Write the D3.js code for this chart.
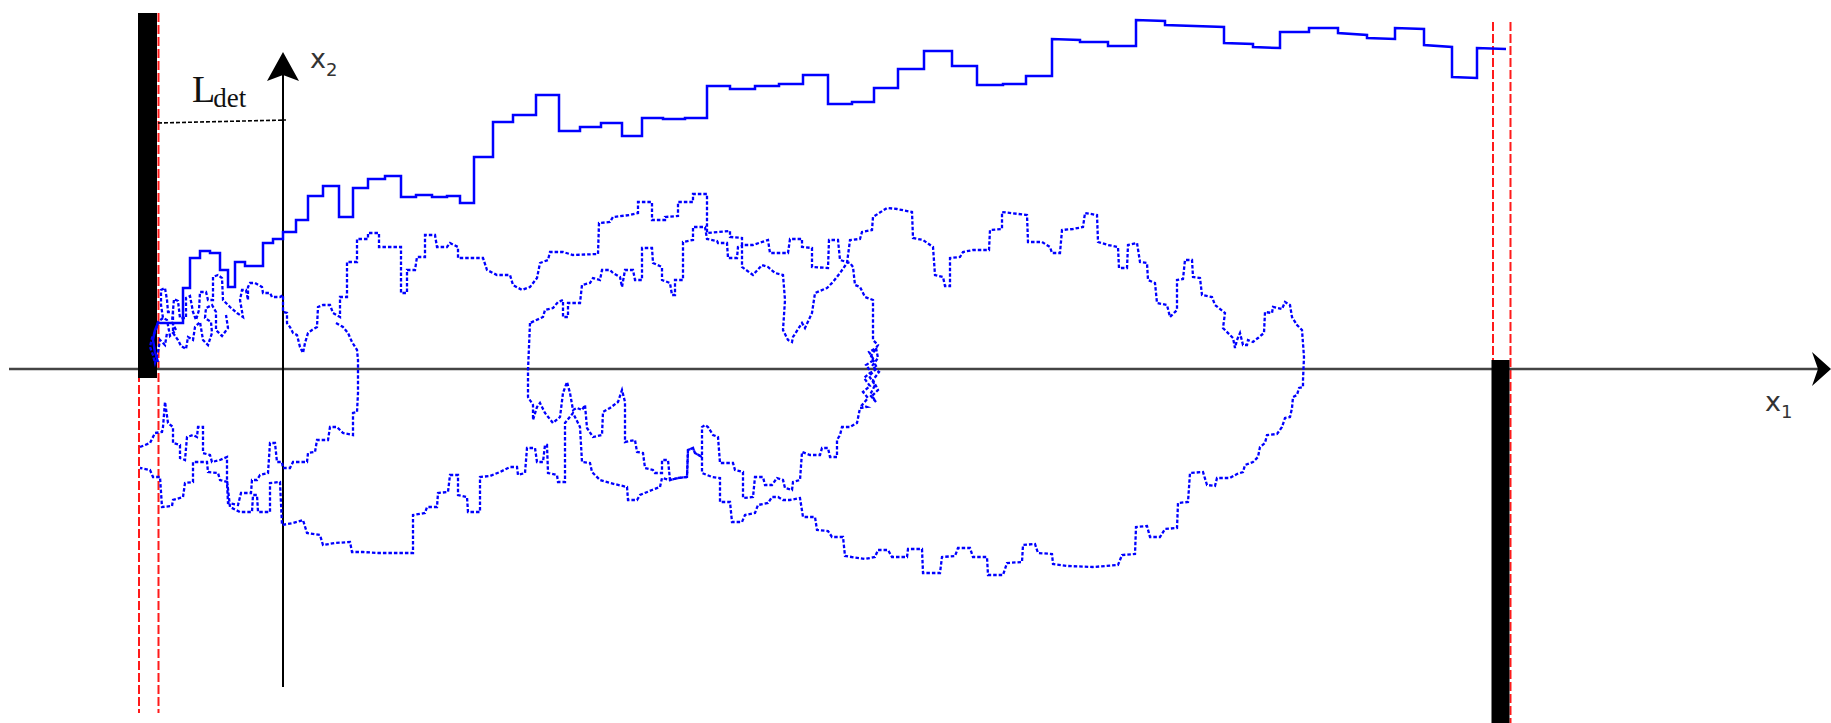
<!DOCTYPE html>
<html>
<head>
<meta charset="utf-8">
<script src="https://cdn.jsdelivr.net/npm/d3@7"></script>
<style>
  html, body { margin: 0; padding: 0; background: #fff; }
  svg { display: block; }
</style>
</head>
<body>
<svg id="chart" width="1831" height="723"></svg>
<script>
// All positions are in (x1, x2) units; the axes cross at (0, 0).
const axisX1 = [-274, 1548];
const axisX2 = [-318, 317];
const leftWall = [-145, -126, 356, -9];      // x1 from, x1 to, x2 top, x2 bottom
const rightWall = [1208.5, 1226.5, 9, -360];
const leftBounds = [-144, -124.5];
const rightBounds = [1210, 1227.5];
const boundsSpan = [[356, -344], [347, -360]];
const detLine = [[-125, 246], [3, 249]];

// Ballistic trajectory (solid)
const ballistic = [[-125,7],[-128,17],[-130,29],[-128,39],[-125,46],[-100,46],[-100,81],[-93,81],[-93,111],[-83,111],[-83,118],[-73,118],[-73,116],[-63,116],[-63,99],[-55,99],[-55,82],[-48,82],[-48,107],[-38,107],[-38,103],[-20,103],[-20,126],[-10,126],[-10,130],[0,130],[0,137],[13,137],[13,149],[25,149],[25,173],[40,173],[40,183],[56,183],[56,152],[70,152],[70,181],[85,181],[85,190],[102,190],[102,193],[118,193],[118,172],[133,172],[133,174],[149,174],[149,172],[164,172],[164,173],[177,173],[177,166],[191,166],[191,212],[210,212],[210,247],[230,247],[230,254],[253,254],[253,274],[276,274],[276,238],[297,238],[297,242],[318,242],[318,246],[339,246],[339,233],[359,233],[359,251],[380,251],[380,250],[402,250],[402,251],[424,251],[424,283],[447,283],[447,280],[472,280],[472,283],[496,283],[496,285],[520,285],[520,294],[545,294],[545,265],[569,265],[569,267],[591,267],[591,281],[615,281],[615,300],[641,300],[641,318],[669,318],[669,303],[694,303],[694,284],[720,284],[720,285],[743,285],[743,293],[769,293],[769,330],[797,329],[797,327],[825,327],[825,323],[853,323],[853,349],[882,348],[882,344],[941,342],[941,326],[970,325],[970,322],[997,321],[997,337],[1026,337],[1026,341],[1055,341],[1055,336],[1084,334],[1084,331],[1112,330],[1112,341],[1141,340],[1141,324],[1169,322],[1169,292],[1194,291],[1194,321],[1223,320]];

// Diffusive trajectory: middle and right loop
const loopRight = [[247,46],[245,-1],[245,-28],[250,-36],[250,-51],[254,-38],[257,-34],[262,-44],[270,-54],[277,-48],[280,-24],[284,-13],[287,-24],[290,-41],[294,-39],[299,-41],[302,-36],[304,-59],[310,-68],[319,-66],[320,-43],[327,-39],[335,-33],[339,-21],[342,-33],[342,-73],[352,-71],[354,-83],[360,-84],[362,-99],[370,-101],[372,-104],[379,-104],[379,-91],[385,-91],[387,-111],[395,-109],[404,-108],[405,-81],[410,-79],[412,-84],[419,-88],[419,-104],[429,-108],[437,-109],[437,-133],[447,-133],[449,-153],[459,-153],[462,-146],[472,-144],[475,-136],[485,-134],[489,-128],[495,-128],[500,-131],[507,-131],[517,-129],[520,-148],[532,-148],[534,-161],[545,-162],[549,-168],[560,-168],[562,-187],[582,-190],[592,-188],[595,-181],[605,-181],[609,-188],[624,-188],[625,-180],[639,-180],[640,-204],[657,-204],[659,-188],[672,-187],[675,-179],[687,-179],[690,-188],[704,-188],[705,-206],[720,-206],[724,-194],[739,-193],[740,-176],[752,-175],[755,-184],[769,-185],[770,-195],[785,-197],[810,-198],[835,-196],[839,-186],[852,-185],[853,-158],[864,-157],[867,-168],[877,-168],[882,-160],[894,-159],[895,-134],[905,-133],[907,-104],[920,-103],[924,-116],[932,-117],[934,-109],[947,-109],[954,-105],[960,-103],[962,-96],[970,-93],[975,-88],[977,-78],[982,-74],[984,-66],[994,-65],[999,-58],[1002,-49],[1007,-48],[1009,-39],[1010,-28],[1014,-26],[1016,-19],[1020,-18],[1020,-11],[1021,12],[1019,39],[1014,44],[1009,52],[1007,64],[1002,67],[999,60],[990,62],[989,56],[982,57],[981,36],[975,31],[970,27],[965,29],[964,24],[960,24],[957,36],[954,29],[952,21],[950,31],[940,41],[942,56],[932,64],[929,72],[919,74],[917,91],[910,92],[909,109],[902,109],[900,90],[894,89],[894,59],[887,52],[884,64],[874,66],[872,86],[865,89],[864,106],[857,107],[854,126],[845,124],[844,101],[836,101],[835,122],[825,124],[815,127],[814,154],[802,156],[800,142],[790,140],[779,139],[777,116],[769,116],[767,122],[759,127],[745,127],[744,154],[719,157],[719,140],[707,139],[706,119],[690,119],[680,117],[677,112],[667,111],[667,83],[662,83],[660,92],[652,94],[650,122],[640,129],[630,131],[629,157],[614,160],[604,161],[590,152],[589,139],[579,137],[577,130],[567,129],[564,106],[557,96],[550,87],[544,81],[532,76],[529,56],[522,41],[519,46],[510,32],[509,27],[505,29],[500,39],[502,69],[500,94],[492,96],[485,102],[479,104],[470,94],[459,102],[459,123],[455,122],[454,111],[445,111],[444,126],[435,126],[434,128],[424,130],[422,142],[410,142],[410,129],[400,127],[400,89],[392,89],[392,74],[389,74],[387,86],[379,89],[379,102],[370,106],[369,121],[359,121],[359,89],[352,89],[350,99],[342,99],[339,82],[337,92],[330,96],[327,99],[319,99],[317,89],[310,91],[307,86],[299,84],[297,66],[285,66],[285,52],[280,52],[280,69],[275,67],[270,61],[262,59],[260,52],[247,46]];

// Diffusive trajectory: lower band, crossing cluster, upper band, back to the wall
const longWalk = [[-143,-78],[-133,-74],[-128,-64],[-121,-63],[-120,-58],[-118,-33],[-115,-54],[-110,-58],[-110,-74],[-103,-76],[-103,-89],[-98,-91],[-96,-68],[-90,-66],[-86,-68],[-85,-58],[-80,-58],[-80,-84],[-73,-86],[-71,-93],[-63,-91],[-56,-88],[-56,-111],[-53,-138],[-43,-143],[-31,-143],[-30,-126],[-26,-126],[-25,-143],[-13,-143],[-13,-114],[-3,-113],[-1,-156],[10,-154],[20,-151],[24,-164],[37,-166],[40,-176],[52,-174],[67,-173],[69,-183],[80,-183],[95,-184],[130,-184],[130,-146],[142,-144],[144,-138],[154,-138],[155,-124],[165,-123],[167,-106],[175,-106],[175,-126],[184,-128],[185,-143],[197,-143],[197,-108],[207,-107],[217,-103],[227,-98],[234,-98],[235,-106],[242,-104],[244,-79],[252,-79],[254,-93],[260,-93],[262,-76],[264,-76],[265,-104],[274,-106],[275,-113],[282,-113],[282,-54],[290,-44],[297,-58],[299,-93],[307,-94],[309,-103],[317,-111],[327,-114],[344,-118],[345,-131],[354,-131],[357,-126],[369,-121],[377,-118],[379,-109],[387,-111],[395,-109],[404,-108],[405,-81],[410,-79],[412,-84],[419,-88],[419,-58],[422,-56],[425,-58],[430,-66],[435,-68],[437,-94],[450,-94],[452,-101],[460,-103],[460,-129],[470,-128],[472,-108],[480,-108],[482,-116],[489,-116],[494,-109],[500,-111],[502,-119],[509,-121],[510,-113],[517,-111],[519,-83],[527,-86],[537,-86],[539,-79],[545,-79],[547,-88],[554,-88],[554,-71],[557,-66],[559,-58],[567,-58],[574,-54],[577,-39],[584,-38],[579,-36],[585,-29],[580,-23],[587,-17],[581,-9],[588,-3],[583,4],[591,9],[586,17],[593,21],[595,11],[589,3],[596,-3],[590,-11],[595,-21],[589,-27],[593,-33],[587,-26],[592,-16],[586,-7],[594,1],[588,13],[595,24],[590,29],[590,69],[582,72],[577,82],[572,84],[570,102],[567,106],[557,109],[555,129],[546,129],[545,101],[529,102],[529,121],[519,122],[519,130],[507,130],[505,116],[487,116],[485,129],[470,124],[459,124],[459,131],[447,132],[447,138],[424,136],[424,175],[410,175],[410,167],[395,167],[395,153],[382,152],[382,149],[369,149],[369,167],[355,167],[355,156],[347,154],[330,152],[327,147],[316,146],[315,115],[290,114],[280,117],[267,117],[265,109],[257,106],[254,91],[247,82],[239,79],[230,84],[227,94],[214,94],[204,99],[200,111],[175,111],[175,122],[167,126],[164,122],[154,122],[152,134],[142,134],[142,112],[134,112],[132,99],[124,99],[124,76],[118,76],[118,122],[96,122],[96,136],[85,136],[85,130],[74,130],[74,107],[64,107],[64,72],[57,72],[57,52],[50,56],[47,64],[40,64],[35,62],[34,42],[29,39],[25,36],[22,26],[20,16],[17,22],[14,34],[10,36],[7,42],[4,46],[4,56],[0,57],[0,74],[-3,72],[-11,72],[-13,76],[-20,76],[-21,82],[-28,86],[-33,86],[-35,82],[-35,69],[-37,79],[-41,79],[-43,69],[-40,52],[-46,56],[-53,62],[-60,69],[-61,91],[-65,94],[-70,92],[-70,69],[-75,69],[-77,77],[-83,77],[-84,59],[-87,49],[-90,57],[-93,73],[-97,71],[-97,51],[-103,51],[-105,68],[-109,70],[-111,47],[-107,39],[-113,33],[-116,49],[-120,51],[-122,64],[-122,79],[-118,81],[-116,69],[-115,57],[-110,57],[-110,36],[-105,29],[-102,23],[-97,20],[-95,32],[-90,29],[-88,42],[-83,47],[-80,29],[-75,24],[-71,36],[-72,47],[-78,51],[-77,61],[-71,64],[-67,57],[-67,39],[-61,33],[-55,41],[-57,54]];

// Diffusive trajectory: small left loop down to the lower wall side
const leftLoop = [[53,46],[60,42],[65,36],[69,27],[74,19],[75,9],[75,-24],[74,-43],[70,-44],[70,-66],[60,-64],[54,-58],[47,-58],[45,-71],[34,-71],[32,-83],[25,-84],[24,-93],[10,-93],[7,-99],[0,-99],[-1,-93],[-6,-93],[-8,-74],[-13,-74],[-15,-104],[-23,-106],[-26,-111],[-31,-111],[-32,-124],[-42,-124],[-45,-136],[-55,-134],[-56,-113],[-63,-111],[-65,-104],[-75,-103],[-76,-93],[-90,-93],[-90,-113],[-98,-114],[-100,-128],[-110,-131],[-111,-137],[-121,-138],[-123,-108],[-130,-108],[-133,-101],[-143,-99]];

// Short excursion close to the left wall
const wallTangle = [[-120,51],[-125,47],[-127,39],[-131,31],[-133,22],[-130,14],[-128,6],[-125,17],[-123,29],[-118,24],[-116,36]];

const W = 1831, H = 723;
const x = d3.scaleLinear().domain([-283, 1548]).range([0, W]);
const y = d3.scaleLinear().domain([369, -354]).range([0, H]);

const svg = d3.select("#chart");
const line = d3.line().x(d => x(d[0])).y(d => y(d[1]));

// red boundary lines (behind the walls)
const reds = [
  { x1: leftBounds[0], span: boundsSpan[0] },
  { x1: leftBounds[1], span: boundsSpan[0] },
  { x1: rightBounds[0], span: boundsSpan[1] },
  { x1: rightBounds[1], span: boundsSpan[1] }
];
svg.append("g").selectAll("line").data(reds).join("line")
  .attr("x1", d => x(d.x1)).attr("x2", d => x(d.x1))
  .attr("y1", d => y(d.span[0])).attr("y2", d => y(d.span[1]))
  .attr("stroke", "#ff1a1a").attr("stroke-width", 2)
  .attr("stroke-dasharray", "9 3");

// horizontal axis
svg.append("line")
  .attr("x1", x(axisX1[0])).attr("x2", x(axisX1[1] - 12))
  .attr("y1", y(0)).attr("y2", y(0))
  .attr("stroke", "#444").attr("stroke-width", 2.6);
svg.append("path")
  .attr("d", line([[axisX1[1], 0], [axisX1[1] - 19, 17], [axisX1[1] - 13, 0], [axisX1[1] - 19, -17]]) + "Z")
  .attr("fill", "#000");

// vertical axis
svg.append("line")
  .attr("x1", x(0)).attr("x2", x(0))
  .attr("y1", y(axisX2[0])).attr("y2", y(axisX2[1] - 20))
  .attr("stroke", "#000").attr("stroke-width", 2);
svg.append("path")
  .attr("d", line([[0, axisX2[1]], [-16, axisX2[1] - 29], [0, axisX2[1] - 23], [16, axisX2[1] - 29]]) + "Z")
  .attr("fill", "#000");

// walls
svg.append("g").selectAll("rect").data([leftWall, rightWall]).join("rect")
  .attr("x", d => x(d[0])).attr("width", d => x(d[1]) - x(d[0]))
  .attr("y", d => y(d[2])).attr("height", d => y(d[3]) - y(d[2]))
  .attr("fill", "#000");

// detection distance marker
svg.append("path").attr("d", line(detLine))
  .attr("stroke", "#000").attr("stroke-width", 1.6)
  .attr("stroke-dasharray", "4 2").attr("fill", "none");

// diffusive trajectories
svg.append("g").selectAll("path").data([loopRight, longWalk, leftLoop, wallTangle]).join("path")
  .attr("d", line)
  .attr("fill", "none").attr("stroke", "#0000ff")
  .attr("stroke-width", 2.3).attr("stroke-dasharray", "3.5 2")
  .attr("stroke-linejoin", "miter");

// ballistic trajectory
svg.append("path").attr("d", line(ballistic))
  .attr("fill", "none").attr("stroke", "#0000ff")
  .attr("stroke-width", 2.5).attr("stroke-linejoin", "miter");

// labels
const x2Label = svg.append("text")
  .attr("x", x(27)).attr("y", y(301))
  .attr("font-family", "DejaVu Sans").attr("font-size", 27).attr("fill", "#333");
x2Label.append("tspan").text("x");
x2Label.append("tspan").attr("font-size", 18).attr("dy", 8).text("2");

const x1Label = svg.append("text")
  .attr("x", x(1482)).attr("y", y(-42))
  .attr("font-family", "DejaVu Sans").attr("font-size", 27).attr("fill", "#333");
x1Label.append("tspan").text("x");
x1Label.append("tspan").attr("font-size", 18).attr("dy", 7).text("1");

const detLabel = svg.append("text")
  .attr("x", x(-91)).attr("y", y(267))
  .attr("font-family", "Liberation Serif, Times New Roman, serif")
  .attr("font-size", 38).attr("fill", "#111");
detLabel.append("tspan").text("L");
detLabel.append("tspan").attr("font-size", 27).attr("dy", 5).attr("dx", -2).text("det");
</script>
</body>
</html>
